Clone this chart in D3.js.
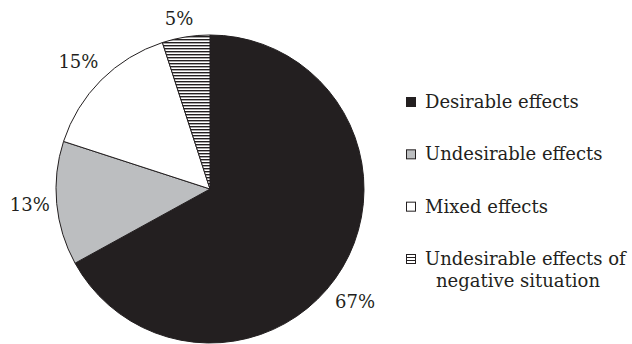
<!DOCTYPE html>
<html><head><meta charset="utf-8">
<script src="https://cdn.jsdelivr.net/npm/d3@7"></script>
<style>body{margin:0;background:#fff}svg{display:block}text{font-family:"DejaVu Serif",serif;fill:#231f20}</style>
</head><body>
<script>
const categories = ["Desirable effects", "Undesirable effects", "Mixed effects", "Undesirable effects of negative situation"];
const values = [67, 13, 15, 5];
const pctLabels = ["67%", "13%", "15%", "5%"];
const fills = ["#231f20", "#bcbec0", "#ffffff", "url(#hatch)"];

const W = 632, H = 344;
const svg = d3.select("body").append("svg").attr("width", W).attr("height", H);
const defs = svg.append("defs");
const pat = defs.append("pattern").attr("id", "hatch").attr("patternUnits", "userSpaceOnUse")
  .attr("width", 6).attr("height", 3);
pat.append("rect").attr("width", 6).attr("height", 3).attr("fill", "#fff");
pat.append("rect").attr("y", 0).attr("width", 6).attr("height", 1.4).attr("fill", "#231f20");

const cx = 210, cy = 189, r = 154;
const pie = d3.pie().sort(null).value(d => d)(values);
const arc = d3.arc().innerRadius(0).outerRadius(r);
const g = svg.append("g").attr("transform", `translate(${cx},${cy})`);
g.selectAll("path").data(pie).join("path")
  .attr("d", arc).attr("fill", (d, i) => fills[i])
  .attr("stroke", "#231f20").attr("stroke-width", 1);

// percentage labels
const labelArc = d3.arc().innerRadius(r + 25).outerRadius(r + 25);
const offsets = [[-9, 21], [-2, -1], [-5, -1], [-3, 6]];
g.selectAll("text.pct").data(pie).join("text").attr("class", "pct")
  .attr("x", (d, i) => labelArc.centroid(d)[0] + offsets[i][0])
  .attr("y", (d, i) => labelArc.centroid(d)[1] + offsets[i][1])
  .attr("text-anchor", "middle").attr("dy", "0.36em")
  .attr("font-size", 18).text((d, i) => pctLabels[i]);

// legend
const legY = d3.scalePoint().domain(categories).range([108, 265]);
const leg = svg.append("g");
const items = leg.selectAll("g").data(categories).join("g")
  .attr("transform", d => `translate(0,${legY(d)})`);
items.append("rect").attr("x", 406.5).attr("y", -10.5).attr("width", 9).attr("height", 9)
  .attr("fill", (d, i) => i === 3 ? "#fff" : fills[i]).attr("stroke", "#231f20").attr("stroke-width", 1);
items.filter((d, i) => i === 3).selectAll("line").data([-7.5, -4.5]).join("line")
  .attr("x1", 406.5).attr("x2", 415.5).attr("y1", d => d).attr("y2", d => d)
  .attr("stroke", "#231f20").attr("stroke-width", 1);
items.append("text").attr("x", 425).attr("y", 0).attr("font-size", 18)
  .each(function(d) {
    const t = d3.select(this);
    if (d === categories[3]) {
      t.append("tspan").attr("x", 425).attr("dy", 0).text("Undesirable effects of");
      t.append("tspan").attr("x", 436).attr("dy", 22).text("negative situation");
    } else t.text(d);
  });
</script>
</body></html>
